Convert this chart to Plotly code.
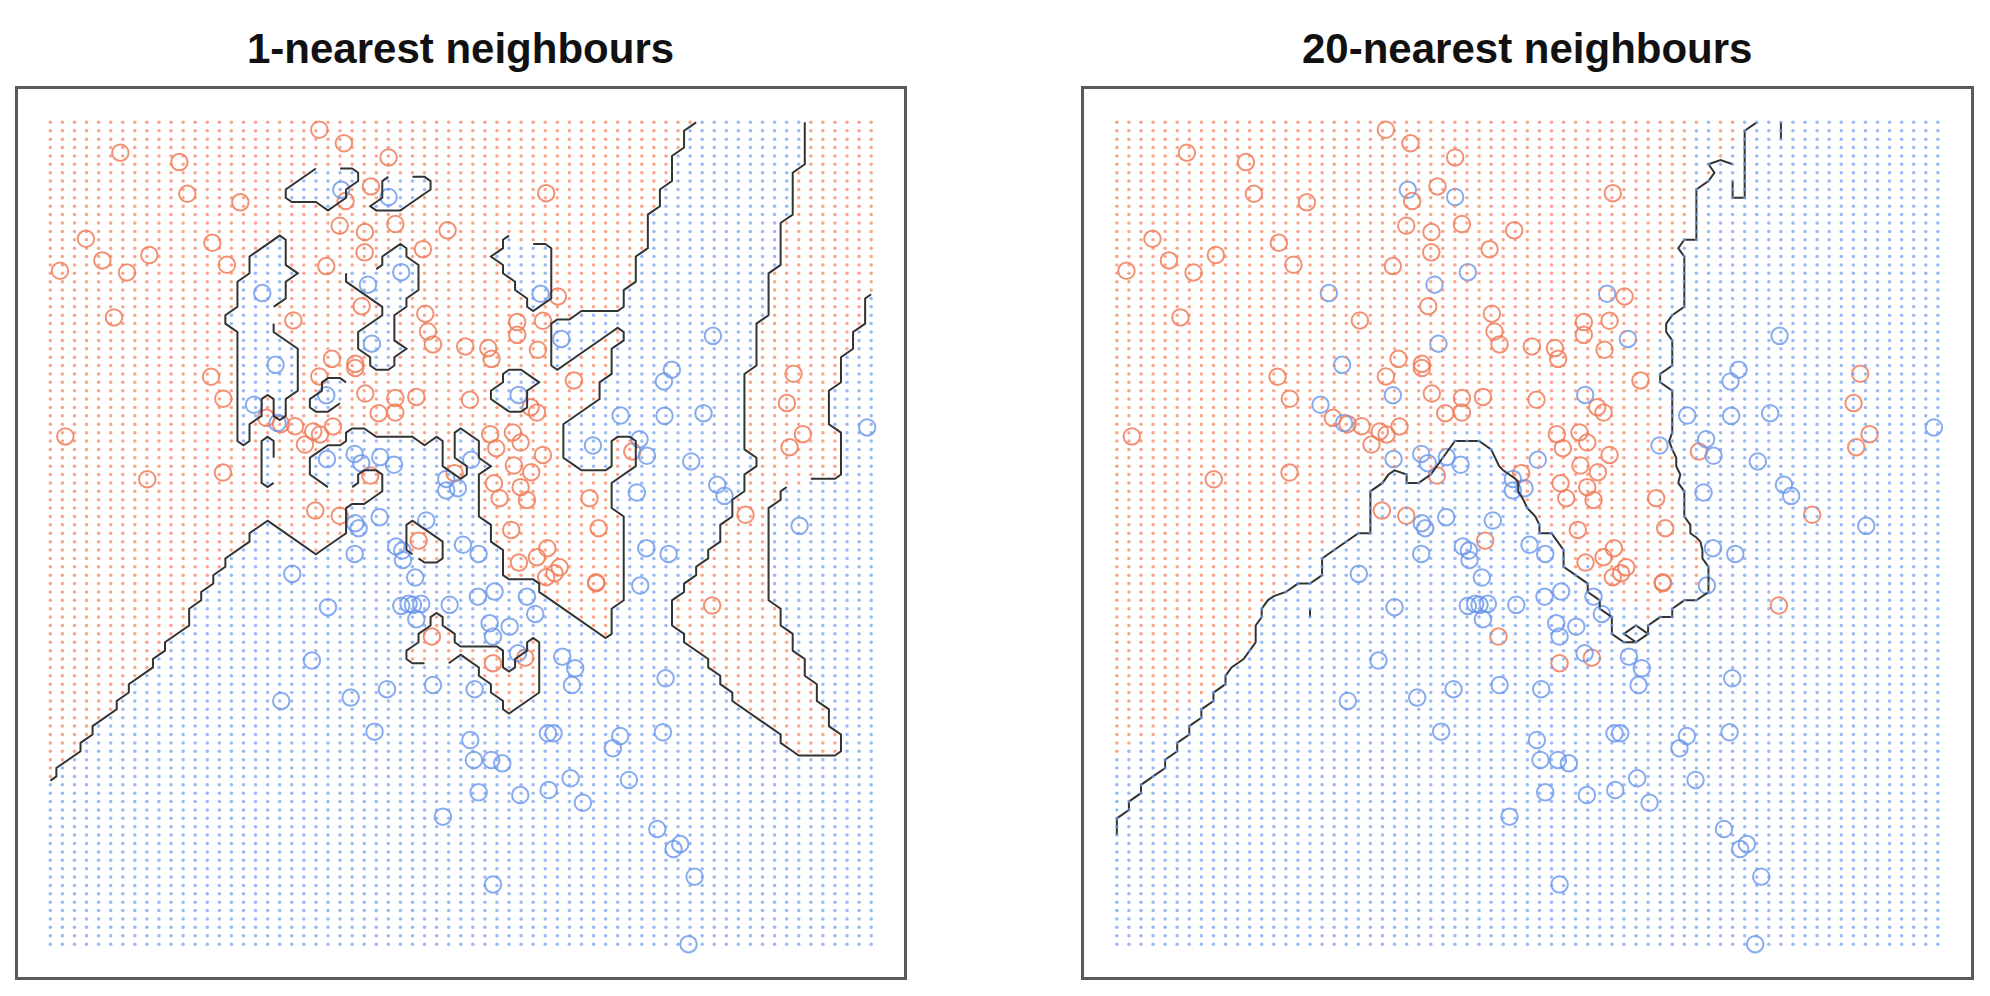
import numpy as np
import plotly.graph_objects as go

TITLES = ["1-nearest neighbours", "20-nearest neighbours"]
NEIGHBOURS = [1, 20]

orange_x = [-0.372,-0.168,0.202,-2.020,-1.531,0.056,-1.465,-1.026,-0.154,-0.203,0.258,0.006,0.691,-2.305,-1.258,0.004,0.487,-1.780,-2.169,-1.137,
 -0.314,-2.520,-1.965,-0.021,0.506,-2.073,-0.587,0.528,0.570,0.837,1.028,1.055,-0.267,-0.074,-0.074,-1.269,-0.372,0.009,-1.167,0.258,
 0.432,0.876,0.120,0.258,-0.811,-0.689,-0.573,-0.259,-0.422,-0.366,-0.491,-2.476,-1.797,-1.170,0.051,0.749,1.044,1.094,1.508,1.605,
 1.268,1.481,1.268,1.439,1.737,1.379,1.431,1.232,1.296,1.481,1.240,1.384,2.221,1.075,1.296,1.867,3.557,3.502,3.634,3.524,
 -0.405,-0.203,0.451,0.561,1.067,1.122,1.348,1.218,1.942,1.517,1.431,1.282,1.619,1.577,1.508,1.922,1.922,3.159,2.883,1.334]
orange_y = [2.856,2.775,2.691,2.719,2.663,2.518,2.474,2.423,2.431,2.284,2.294,2.246,2.256,2.206,2.182,2.125,2.144,2.109,2.077,2.051,
 2.043,2.015,2.005,1.804,1.759,1.737,1.719,1.653,1.576,1.564,1.554,1.490,1.490,1.460,1.435,1.383,1.385,1.283,1.252,1.256,
 1.263,1.246,1.166,1.170,1.138,1.102,1.088,1.087,1.057,1.039,0.979,1.027,0.772,0.812,0.794,0.808,1.041,0.957,2.478,1.862,
 1.709,1.717,1.633,1.544,1.361,1.202,1.170,1.051,0.991,0.917,0.854,0.814,0.937,0.748,0.725,0.659,1.401,1.226,1.041,0.963,
 0.585,0.554,0.406,-0.166,-0.325,0.659,0.649,0.470,0.480,0.361,0.307,0.275,0.247,0.212,0.188,0.158,0.152,0.560,0.019,-0.292]

blue_x = [-0.190,0.202,0.307,0.031,-0.844,0.064,-0.734,-0.314,-0.913,-0.718,-0.308,-0.079,0.133,-0.024,0.247,0.887,0.680,0.680,0.777,1.461,
 1.633,2.889,2.549,2.483,1.279,2.124,2.488,2.811,4.167,1.895,2.281,2.342,2.709,2.925,2.985,2.259,-0.074,-0.046,0.128,0.514,
 -0.596,0.266,0.316,-0.079,0.321,0.423,-0.300,0.307,0.368,0.473,0.708,0.432,0.942,1.080,0.818,0.948,-0.433,1.039,1.067,0.570,
 0.915,0.189,-0.112,-0.687,0.086,0.879,0.909,1.053,1.144,0.948,0.652,1.067,1.348,1.417,1.205,1.274,1.641,1.748,1.721,2.337,
 2.522,2.287,3.607,2.497,1.522,1.569,2.121,2.060,2.475,1.710,2.193,1.293,1.528,1.812,2.428,2.618,2.563,2.737,2.687,0.404]
blue_y = [2.498,2.455,2.007,1.932,1.882,1.580,1.454,1.273,1.216,1.107,0.892,0.923,0.904,0.868,0.858,0.888,0.774,0.705,0.719,1.878,
 1.609,1.627,1.425,1.355,1.275,1.152,1.150,1.166,1.081,0.973,1.011,0.912,0.878,0.739,0.673,0.693,0.510,0.480,0.546,0.526,
 0.208,0.371,0.347,0.327,0.291,0.186,0.009,0.017,0.029,0.029,0.023,-0.063,0.072,0.102,0.381,0.327,-0.309,-0.087,-0.166,-0.455,
 -0.480,-0.480,-0.530,-0.550,-0.733,-0.783,-0.902,-0.902,-0.922,-1.095,-1.240,-1.644,0.072,-0.031,-0.107,-0.266,-0.286,-0.355,-0.455,0.361,
 0.327,0.138,0.494,-0.415,-0.743,-0.743,-0.759,-0.832,-0.737,-1.011,-1.021,-1.111,-1.081,-1.157,-1.314,-1.403,-1.433,-1.598,-2.000,0.023]

# gaps R leaves in the contour where its (blank) labels sit: x0, x1, y0, y1
label_gaps = [
    [(-0.397,-0.231,2.59,2.66),(0.211,0.363,2.54,2.62),(-0.80,-0.70,1.69,1.80),(-0.78,-0.70,0.76,0.88),
     (-0.259,-0.093,0.68,0.77),(-0.22,-0.12,1.23,1.355),(-0.134,0.06,1.98,2.06),(1.20,1.365,2.14,2.22),
     (0.53,0.69,-0.37,-0.29),(3.54,3.70,0.69,0.77),(0.40,0.49,0.31,0.42)],
    [(2.45,2.54,2.56,2.65),(2.72,2.87,2.86,2.95)],
]

CORAL = "#F4805A"
BLUE = "#6E9BEE"
RING_CORAL = "rgba(240,125,90,0.85)"
RING_BLUE = "rgba(105,150,235,0.8)"

grid_x = np.round(np.arange(-2.6, 4.2001, 0.1), 3)
grid_y = np.round(np.arange(-2.0, 2.9001, 0.05), 3)
train_x = np.array(orange_x + blue_x)
train_y = np.array(orange_y + blue_y)
is_orange = np.array([1] * len(orange_x) + [0] * len(blue_x))

def knn_share(k):
    gx, gy = np.meshgrid(grid_x, grid_y)
    d = (gx[..., None] - train_x) ** 2 + (gy[..., None] - train_y) ** 2
    nearest = np.argsort(d, axis=-1)[..., :k]
    return is_orange[nearest].mean(axis=-1)

def contour_paths(z, gaps, level=0.5):
    segs = []
    ny, nx = z.shape
    def cross(i0, j0, i1, j1):
        a, b = z[i0, j0], z[i1, j1]
        t = (level - a) / (b - a)
        t = min(max(t, 0), 1)
        return (round(float(grid_x[j0] + t * (grid_x[j1] - grid_x[j0])), 5),
                round(float(grid_y[i0] + t * (grid_y[i1] - grid_y[i0])), 5))
    for i in range(ny - 1):
        for j in range(nx - 1):
            corners = [(i, j), (i, j + 1), (i + 1, j + 1), (i + 1, j)]
            pts = []
            for c in range(4):
                p, q = corners[c], corners[(c + 1) % 4]
                if (z[p] >= level) != (z[q] >= level):
                    pts.append(cross(*p, *q))
            for s in range(0, len(pts) - 1, 2):
                a, b = pts[s], pts[s + 1]
                mx, my = (a[0] + b[0]) / 2, (a[1] + b[1]) / 2
                if a != b and not any(g[0] <= mx <= g[1] and g[2] <= my <= g[3] for g in gaps):
                    segs.append((a, b))
    adj = {}
    for n, (a, b) in enumerate(segs):
        adj.setdefault(a, []).append((b, n))
        adj.setdefault(b, []).append((a, n))
    used = set()
    xs, ys = [], []
    starts = [p for p, v in adj.items() if len(v) == 1] + list(adj)
    for st in starts:
        cur = st
        path = [cur]
        while True:
            nxt = next(((p, n) for p, n in adj[cur] if n not in used), None)
            if nxt is None:
                break
            used.add(nxt[1])
            cur = nxt[0]
            path.append(cur)
        if len(path) > 1:
            xs += [p[0] for p in path] + [None]
            ys += [p[1] for p in path] + [None]
    return xs, ys

fig = go.Figure()
domains_x = [[0.004813, 0.453901], [0.545086, 0.994276]]
for idx, k in enumerate(NEIGHBOURS):
    ax = "" if idx == 0 else "2"
    z = knn_share(k)
    gx, gy = np.meshgrid(grid_x, grid_y)
    mask = z > 0.5
    fig.add_trace(go.Scatter(x=orange_x, y=orange_y, mode="markers", xaxis="x" + ax, yaxis="y" + ax,
        marker=dict(symbol="circle-open", size=16.5, color=RING_CORAL, line=dict(width=2, color=RING_CORAL))))
    fig.add_trace(go.Scatter(x=blue_x, y=blue_y, mode="markers", xaxis="x" + ax, yaxis="y" + ax,
        marker=dict(symbol="circle-open", size=16.5, color=RING_BLUE, line=dict(width=2, color=RING_BLUE))))
    cx, cy = contour_paths(z, label_gaps[idx])
    fig.add_trace(go.Scatter(x=cx, y=cy, mode="lines", xaxis="x" + ax, yaxis="y" + ax,
        line=dict(color="#333333", width=2)))
    fig.add_trace(go.Scatter(x=gx[mask], y=gy[mask], mode="markers", xaxis="x" + ax, yaxis="y" + ax,
        marker=dict(symbol="circle", size=3.5, color=CORAL, opacity=0.7, line=dict(width=0))))
    fig.add_trace(go.Scatter(x=gx[~mask], y=gy[~mask], mode="markers", xaxis="x" + ax, yaxis="y" + ax,
        marker=dict(symbol="circle", size=3.5, color=BLUE, opacity=0.7, line=dict(width=0))))

axis_style = dict(showgrid=False, zeroline=False, showticklabels=False, ticks="", showline=True,
                  mirror=True, linecolor="#5a5a5a", linewidth=2.5)
layout = dict(width=1974, height=980, margin=dict(l=0, r=0, t=0, b=0), showlegend=False,
              paper_bgcolor="white", plot_bgcolor="white", hovermode=False)
for idx in range(2):
    ax = "" if idx == 0 else "2"
    layout["xaxis" + ax] = dict(axis_style, domain=domains_x[idx], range=[-2.872, 4.472], anchor="y" + ax)
    layout["yaxis" + ax] = dict(axis_style, domain=[0.011224, 0.916837], range=[-2.196, 3.096], anchor="x" + ax)
layout["annotations"] = [
    dict(text="<b>%s</b>" % TITLES[i], x=sum(domains_x[i]) / 2, y=0.9585, xref="paper", yref="paper",
         xanchor="center", yanchor="middle", showarrow=False,
         font=dict(family="Liberation Sans", size=42, color="#111111"))
    for i in range(2)
]
fig.update_layout(**layout)
fig.write_html("out.html")
